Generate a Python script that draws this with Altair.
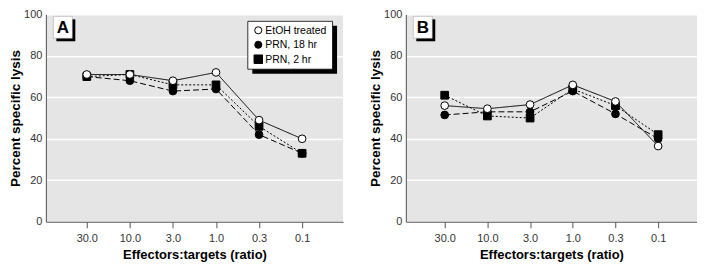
import altair as alt
import pandas as pd

ratios = ["30.0", "10.0", "3.0", "1.0", "0.3", "0.1"]
series = ["EtOH treated", "PRN, 18 hr", "PRN, 2 hr"]

a_etoh = [71, 71, 68, 72, 49, 40]
a_prn18 = [70, 68, 63, 64, 42, 33]
a_prn2 = [70, 71, 66, 66, 46, 33]

b_etoh = [56, 54.5, 56.5, 66, 58, 36.5]
b_prn18 = [51.5, 53, 53, 63, 52, 40]
b_prn2 = [61, 51, 50, 64, 56, 42]

FONT = "Liberation Sans"

SHAPES = ["circle", "circle", "square"]
FILLS = ["white", "black", "black"]
SIZES = [60, 60, 85]


def frame(vals):
    rows = []
    # draw EtOH last so its open circles sit on top
    for s, v in reversed(list(zip(series, vals))):
        for r, y in zip(ratios, v):
            rows.append({"ratio": r, "series": s, "lysis": y})
    return pd.DataFrame(rows)


def legend_layers():
    one = alt.Data(values=[{"k": 0}])
    layers = [
        alt.Chart(one).mark_rect(color="black").encode(
            x=alt.value(207), x2=alt.value(292), y=alt.value(11.5), y2=alt.value(59.5)),
        alt.Chart(one).mark_rect(fill="white", stroke="black", strokeWidth=0.8).encode(
            x=alt.value(202.5), x2=alt.value(287.5), y=alt.value(7), y2=alt.value(55)),
    ]
    for i, s in enumerate(series):
        d = alt.Data(values=[{"series": s}])
        yy = 16 + i * 14.5
        layers.append(alt.Chart(d).mark_point(
            filled=True, shape=SHAPES[i], fill=FILLS[i], stroke="black",
            strokeWidth=1, size=SIZES[i] * 0.85, opacity=1).encode(
            x=alt.value(213), y=alt.value(yy)))
        layers.append(alt.Chart(d).mark_text(
            font=FONT, fontSize=10.5, align="left", baseline="middle", color="black").encode(
            x=alt.value(220), y=alt.value(yy + 0.5), text="series:N"))
    return layers


def panel(df, letter, show_legend, width, pad):
    x = alt.X("ratio:N", sort=ratios,
              scale=alt.Scale(type="point", padding=pad),
              axis=alt.Axis(title="Effectors:targets (ratio)", labelAngle=0))
    y = alt.Y("lysis:Q", scale=alt.Scale(domain=[0, 100], nice=False, zero=True),
              axis=alt.Axis(title="Percent specific lysis", values=[0, 20, 40, 60, 80, 100]))
    base = alt.Chart(df)
    lines = base.mark_line(color="black", strokeWidth=1).encode(
        x=x, y=y,
        strokeDash=alt.StrokeDash("series:N", scale=alt.Scale(domain=series, range=[[1, 0], [6, 3], [2, 2]]), legend=None),
    )
    points = base.mark_point(filled=True, stroke="black", strokeWidth=1, opacity=1).encode(
        x=x, y=y,
        shape=alt.Shape("series:N", scale=alt.Scale(domain=series, range=SHAPES), legend=None),
        fill=alt.Fill("series:N", scale=alt.Scale(domain=series, range=FILLS), legend=None),
        size=alt.Size("series:N", scale=alt.Scale(domain=series, range=SIZES), legend=None),
    )
    one = alt.Data(values=[{"letter": letter}])
    shadow = alt.Chart(one).mark_rect(color="black").encode(
        x=alt.value(10.5), x2=alt.value(29.5), y=alt.value(5), y2=alt.value(27))
    box = alt.Chart(one).mark_rect(fill="white", stroke="#999", strokeWidth=0.5).encode(
        x=alt.value(7.5), x2=alt.value(26.5), y=alt.value(2), y2=alt.value(24))
    txt = alt.Chart(one).mark_text(font=FONT, fontSize=17, fontWeight="bold", color="black").encode(
        x=alt.value(17), y=alt.value(13.5), text="letter:N")
    layers = [shadow, box, txt, lines, points]
    if show_legend:
        layers += legend_layers()
    return alt.layer(*layers).properties(width=width, height=208)


chart = alt.hconcat(
    panel(frame([a_etoh, a_prn18, a_prn2]), "A", True, 298, 0.95),
    panel(frame([b_etoh, b_prn18, b_prn2]), "B", False, 292, 0.91),
    spacing=25,
).properties(
    padding={"left": 0, "top": 0, "right": 0, "bottom": 0}
).configure_view(
    fill="#e5e5e5", stroke=None
).configure_axis(
    labelFont=FONT, labelFontSize=11, labelColor="#333",
    titleFont=FONT, titleFontWeight="bold", titleColor="black",
    domainColor="#555", domainWidth=1, tickColor="#555",
).configure_axisY(
    ticks=False, labelPadding=4, grid=True, gridColor="white", gridWidth=1.5,
    titlePadding=1, titleFontSize=13.5,
).configure_axisX(
    grid=False, tickSize=6, labelPadding=5, titlePadding=5, titleFontSize=13,
)

chart.save("out.html", embed_options={"renderer": "svg", "actions": False})
